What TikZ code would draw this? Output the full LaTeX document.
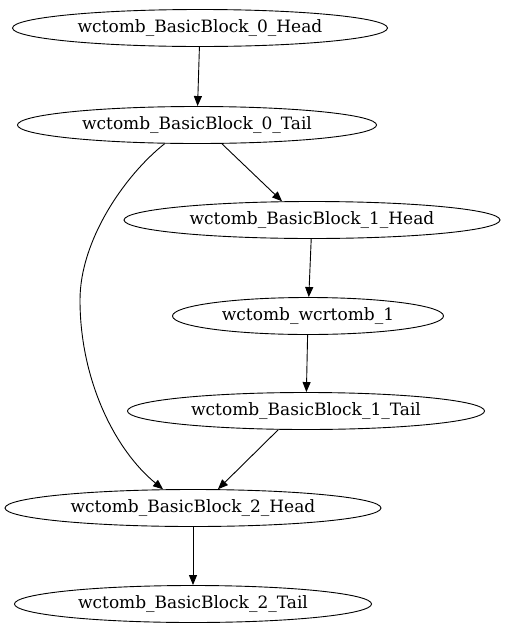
\documentclass[tikz,border=0pt]{standalone}
\usepackage{fontspec}
\setmainfont{DejaVu Serif}
\usetikzlibrary{arrows.meta,shapes.geometric}
\tikzset{
  gnode/.style={draw, ellipse, line width=0.9pt, minimum height=37pt, inner sep=0pt, font=\fontsize{17}{19}\selectfont},
  gedge/.style={draw, line width=0.9pt, -{Triangle[length=10pt,width=8pt]}}
}
\begin{document}
\begin{tikzpicture}[x=1pt,y=-1pt]
\useasboundingbox (0,0) rectangle (505,635);
\node[gnode, minimum width=375pt] (h0) at (200,28) {wctomb\_BasicBlock\_0\_Head};
\node[gnode, minimum width=359pt] (t0) at (197,125) {wctomb\_BasicBlock\_0\_Tail};
\node[gnode, minimum width=376pt] (h1) at (312,220) {wctomb\_BasicBlock\_1\_Head};
\node[gnode, minimum width=271pt] (w1) at (308,316) {wctomb\_wcrtomb\_1};
\node[gnode, minimum width=357pt] (t1) at (306,411) {wctomb\_BasicBlock\_1\_Tail};
\node[gnode, minimum width=376pt] (h2) at (193,508) {wctomb\_BasicBlock\_2\_Head};
\node[gnode, minimum width=357pt] (t2) at (193,604) {wctomb\_BasicBlock\_2\_Tail};
\draw[gedge] (h0) -- (t0);
\draw[gedge] (t0.-37) -- (h1.148);
\draw[gedge] (h1) -- (w1);
\draw[gedge] (w1) -- (t1);
\draw[gedge] (t1.-146) -- (h2.37);
\draw[gedge] (h2) -- (t2);
\draw[gedge] (t0.-150) .. controls (125,175) and (80,240) .. (80,300) .. controls (80,380) and (115,450) .. (h2.148);
\end{tikzpicture}
\end{document}
